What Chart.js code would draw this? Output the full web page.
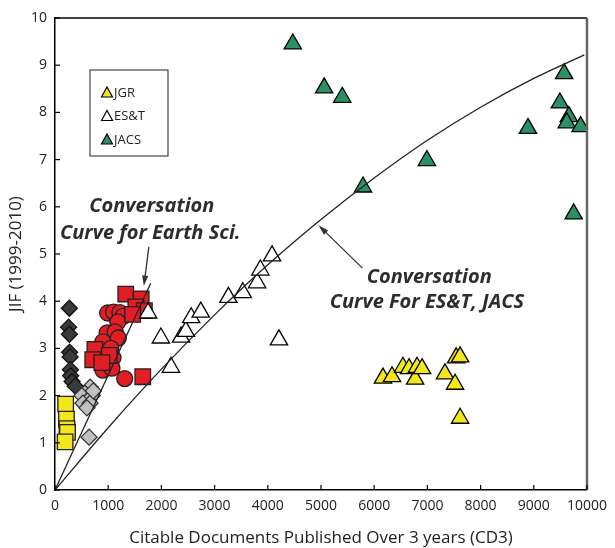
<!DOCTYPE html>
<html>
<head>
<meta charset="utf-8">
<script src="https://cdn.jsdelivr.net/npm/chart.js@4.4.0/dist/chart.umd.min.js"></script>
<style>
  body { margin: 0; background: #fff; }
</style>
</head>
<body>
<canvas id="grafico" width="615" height="548"></canvas>
<script>
// pontos: [CD3, JIF]
const jgrQuadrados = [[200, 1.82], [215, 1.5], [225, 1.3], [235, 1.22], [190, 1.02]];
const diamantesEscuros = [[270, 3.85], [255, 3.45], [270, 3.3], [275, 2.92], [285, 2.82], [290, 2.55], [295, 2.42], [320, 2.3], [380, 2.2]];
const diamantesClaros = [[660, 2.18], [560, 2.05], [505, 2.0], [700, 2.0], [620, 1.9], [525, 1.84], [660, 1.84], [600, 1.74], [720, 2.1], [640, 1.12]];
const vermelhoQuadrados = [[1330, 4.15], [1620, 4.05], [1520, 3.88], [1680, 3.8], [1460, 3.72], [750, 2.98], [710, 2.76], [1020, 2.85], [880, 2.7], [1650, 2.4]];
const vermelhoCirculos = [[990, 3.75], [1100, 3.77], [1220, 3.76], [1280, 3.68], [1180, 3.56], [980, 3.33], [1130, 3.35], [900, 3.14], [1190, 3.22], [940, 2.9], [1090, 2.8], [980, 2.68], [900, 2.54], [1070, 2.58], [1310, 2.36], [1050, 3.0]];
const estTriangulos = [[1750, 3.75], [1990, 3.22], [2180, 2.6], [2370, 3.24], [2460, 3.36], [2560, 3.65], [2740, 3.77], [3260, 4.08], [3530, 4.18], [3800, 4.39], [3860, 4.66], [4080, 4.96], [4210, 3.18]];
const jgrTriangulos = [[6165, 2.37], [6335, 2.4], [6540, 2.6], [6655, 2.57], [6770, 2.35], [6805, 2.6], [6900, 2.57], [7330, 2.46], [7520, 2.24], [7540, 2.8], [7615, 2.82], [7615, 1.52]];
const jacsTriangulos = [[4470, 9.45], [5060, 8.52], [5400, 8.32], [5790, 6.42], [6990, 6.98], [8890, 7.66], [9490, 8.2], [9570, 8.82], [9660, 7.91], [9620, 7.78], [9880, 7.7], [9750, 5.85]];

// curvas de conversação
const curvaEstX = [0, 1000, 2000, 3000, 4000, 5000, 6000, 7000, 8000, 9000, 9950];
const curvaEstY = [0, 1.32, 2.56, 3.71, 4.77, 5.73, 6.61, 7.41, 8.11, 8.72, 9.22];
const curvaTerraX = [0, 1800];
const curvaTerraY = [0, 4.38];

const xTicks = [0, 1000, 2000, 3000, 4000, 5000, 6000, 7000, 8000, 9000, 10000];
const yTicks = [0, 1, 2, 3, 4, 5, 6, 7, 8, 9, 10];

const fonte = "'Open Sans', 'Noto Sans', sans-serif";

function pts(arr) {
  return arr.map(p => ({ x: p[0], y: p[1] }));
}
function linha(xs, ys) {
  return xs.map((x, i) => ({ x: x, y: ys[i] }));
}

function marcador(label, dados, estilo, raio, fundo, borda, ordem) {
  return {
    label: label,
    data: pts(dados),
    pointStyle: estilo,
    pointRadius: raio,
    pointHoverRadius: raio,
    backgroundColor: fundo,
    borderColor: borda,
    pointBorderWidth: 1.3,
    order: ordem
  };
}

function seta(ctx, x1, y1, x2, y2) {
  const ang = Math.atan2(y2 - y1, x2 - x1);
  const tam = 11;
  ctx.beginPath();
  ctx.moveTo(x1, y1);
  ctx.lineTo(x2 - Math.cos(ang) * 6, y2 - Math.sin(ang) * 6);
  ctx.stroke();
  ctx.beginPath();
  ctx.moveTo(x2, y2);
  ctx.lineTo(x2 - tam * Math.cos(ang - 0.28), y2 - tam * Math.sin(ang - 0.28));
  ctx.lineTo(x2 - tam * Math.cos(ang + 0.28), y2 - tam * Math.sin(ang + 0.28));
  ctx.closePath();
  ctx.fill();
}

function triangulo(ctx, x, y, cor) {
  ctx.beginPath();
  ctx.moveTo(x, y - 6);
  ctx.lineTo(x + 5.5, y + 4);
  ctx.lineTo(x - 5.5, y + 4);
  ctx.closePath();
  ctx.fillStyle = cor;
  ctx.fill();
  ctx.strokeStyle = '#000';
  ctx.lineWidth = 1.2;
  ctx.stroke();
}

const enfeites = {
  id: 'enfeites',
  afterDraw(chart) {
    const ctx = chart.ctx;
    const a = chart.chartArea;
    const sx = chart.scales.x;
    const sy = chart.scales.y;
    ctx.save();

    // borda superior e direita
    ctx.strokeStyle = '#000';
    ctx.lineWidth = 1.5;
    ctx.beginPath();
    ctx.moveTo(a.left, a.top);
    ctx.lineTo(a.right, a.top);
    ctx.stroke();
    ctx.strokeStyle = '#666';
    ctx.lineWidth = 2.5;
    ctx.beginPath();
    ctx.moveTo(a.right, a.top);
    ctx.lineTo(a.right, a.bottom);
    ctx.stroke();

    // marcas internas dos eixos
    ctx.strokeStyle = '#000';
    ctx.lineWidth = 1.2;
    xTicks.forEach(v => {
      const px = sx.getPixelForValue(v);
      ctx.beginPath();
      ctx.moveTo(px, a.bottom);
      ctx.lineTo(px, a.bottom - 5);
      ctx.stroke();
    });
    yTicks.forEach(v => {
      const py = sy.getPixelForValue(v);
      ctx.beginPath();
      ctx.moveTo(a.left, py);
      ctx.lineTo(a.left + 5, py);
      ctx.stroke();
    });

    // setas
    ctx.strokeStyle = '#333';
    ctx.fillStyle = '#333';
    ctx.lineWidth = 1.3;
    seta(ctx, sx.getPixelForValue(1764), sy.getPixelForValue(5.15), sx.getPixelForValue(1670), sy.getPixelForValue(4.32));
    seta(ctx, sx.getPixelForValue(5779), sy.getPixelForValue(4.7), sx.getPixelForValue(4953), sy.getPixelForValue(5.61));

    // textos
    ctx.fillStyle = '#2d2d2d';
    ctx.font = "italic bold 20px " + fonte;
    ctx.textAlign = 'center';
    ctx.textBaseline = 'middle';
    ctx.fillText('Conversation', sx.getPixelForValue(1820), sy.getPixelForValue(6.02));
    ctx.fillText('Curve for Earth Sci.', sx.getPixelForValue(1790), sy.getPixelForValue(5.44));
    ctx.fillText('Conversation', sx.getPixelForValue(7035), sy.getPixelForValue(4.51));
    ctx.fillText('Curve For ES&T, JACS', sx.getPixelForValue(6990), sy.getPixelForValue(3.98));

    // legenda
    const lx = a.left + 35, ly = a.top + 52;
    ctx.strokeStyle = '#222';
    ctx.lineWidth = 1;
    ctx.strokeRect(lx, ly, 78, 86);
    const itens = [['JGR', '#f3e61a'], ['ES&T', '#ffffff'], ['JACS', '#2a9166']];
    ctx.font = "13px " + fonte;
    ctx.textAlign = 'left';
    itens.forEach((it, i) => {
      const yy = ly + 23 + i * 23.5;
      triangulo(ctx, lx + 17, yy, it[1]);
      ctx.fillStyle = '#222';
      ctx.fillText(it[0], lx + 24, yy);
    });
    ctx.restore();
  }
};

const ctx = document.getElementById('grafico').getContext('2d');
const grafico = new Chart(ctx, {
  type: 'scatter',
  data: {
    datasets: [
      {
        label: 'Curve ES&T, JACS',
        data: linha(curvaEstX, curvaEstY),
        showLine: true,
        pointRadius: 0,
        borderColor: '#222',
        borderWidth: 1.3,
        cubicInterpolationMode: 'monotone',
        order: 0
      },
      {
        label: 'Curve Earth Sci.',
        data: linha(curvaTerraX, curvaTerraY),
        showLine: true,
        pointRadius: 0,
        borderColor: '#222',
        borderWidth: 1.3,
        order: 0
      },
      marcador('JACS', jacsTriangulos, 'triangle', 10, '#2a9166', '#000', 1),
      marcador('JGR', jgrTriangulos, 'triangle', 10, '#f3e61a', '#000', 1),
      marcador('ES&T', estTriangulos, 'triangle', 10, '#ffffff', '#000', 1),
      marcador('Vermelho quadrado', vermelhoQuadrados, 'rect', 11, '#e21d24', '#222', 2),
      marcador('Vermelho circulo', vermelhoCirculos, 'circle', 8, '#e21d24', '#222', 3),
      marcador('Cinza claro', diamantesClaros, 'rectRot', 8, '#c0c0c0', '#333', 4),
      marcador('Cinza escuro', diamantesEscuros, 'rectRot', 8, '#3a3a3a', '#111', 4),
      marcador('JGR quadrado', jgrQuadrados, 'rect', 11, '#f3e61a', '#222', 4)
    ]
  },
  options: {
    responsive: false,
    animation: false,
    layout: { padding: { top: 18, right: 27, left: 0, bottom: 0 } },
    plugins: {
      legend: { display: false },
      tooltip: { enabled: false }
    },
    scales: {
      x: {
        type: 'linear',
        min: 0,
        max: 10000,
        afterFit: s => { s.height = 58; },
        afterBuildTicks: s => { s.ticks = xTicks.map(v => ({ value: v })); },
        ticks: {
          font: { family: fonte, size: 14 },
          color: '#222',
          padding: 8,
          maxRotation: 0,
          callback: v => String(v)
        },
        grid: { display: false, drawTicks: false },
        border: { display: true, color: '#000', width: 1.5 },
        title: {
          display: true,
          text: 'Citable Documents Published Over 3 years (CD3)',
          font: { family: fonte, size: 17 },
          color: '#222',
          padding: { top: 0, bottom: 0 }
        }
      },
      y: {
        type: 'linear',
        min: 0,
        max: 10,
        afterFit: s => { s.width = 55; },
        afterBuildTicks: s => { s.ticks = yTicks.map(v => ({ value: v })); },
        ticks: { font: { family: fonte, size: 14 }, color: '#222', padding: 8, callback: v => String(v) },
        grid: { display: false, drawTicks: false },
        border: { display: true, color: '#000', width: 1.5 },
        title: {
          display: true,
          text: 'JIF (1999-2010)',
          font: { family: fonte, size: 17 },
          color: '#222',
          padding: { top: 6, bottom: 0 }
        }
      }
    }
  },
  plugins: [enfeites]
});
</script>
</body>
</html>
